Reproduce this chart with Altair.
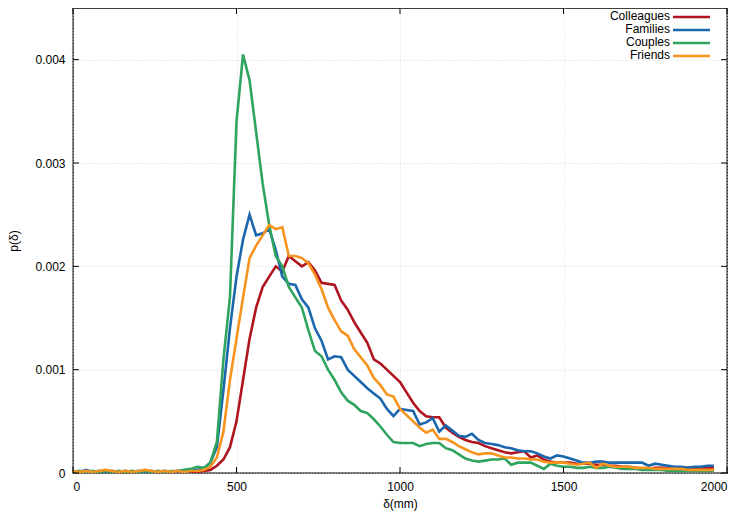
import altair as alt
import pandas as pd

# ---- data ----
names = ["Colleagues", "Families", "Couples", "Friends"]
colors = ["#b0141f", "#1a67ad", "#2fa45e", "#f7941e"]
x_mm = list(range(0, 1980, 20))  # bin positions (mm)

colleagues = [
    0.00001, 0.00001, 0.00001, 0.00001, 0.00001, 0.00001, 0.00001, 0.00001, 0.00001, 0.00001,
    0.00001, 0.00001, 0.00001, 0.00001, 0.00001, 0.00001, 0.00001, 0.00001, 0.00001, 0.00001,
    0.00002, 0.00003, 0.00007, 0.00013, 0.00025, 0.0005, 0.0009, 0.0013, 0.0016, 0.0018,
    0.0019, 0.0020, 0.00195, 0.0021, 0.00205, 0.0020, 0.00204, 0.00196, 0.00184, 0.00183,
    0.00182, 0.00167, 0.00158, 0.00146, 0.00136, 0.00126, 0.0011, 0.00106, 0.0010, 0.00094,
    0.00088, 0.00078, 0.00068, 0.0006, 0.00055, 0.00054, 0.00054, 0.00044, 0.00039, 0.00035,
    0.00032, 0.0003, 0.00029, 0.00026, 0.00024, 0.00022, 0.0002, 0.00019, 0.0002, 0.00021,
    0.00015, 0.00017, 0.00013, 0.00011, 0.0001, 0.0001, 0.0001, 0.00009, 0.00009, 0.00009,
    0.00008, 0.00008, 0.00007, 0.00007, 0.00006, 0.00006, 0.00005, 0.00004, 0.00004, 0.00005,
    0.00005, 0.00005, 0.00005, 0.00005, 0.00005, 0.00005, 0.00005, 0.00005, 0.00005,
]
families = [
    0.00002, 0.00001, 0.00003, 0.00001, 0.00002, 0.00001, 0.00002, 0.00001, 0.00002, 0.00001,
    0.00002, 0.00001, 0.00002, 0.00001, 0.00002, 0.00001, 0.00002, 0.00001, 0.00002, 0.00003,
    0.00004, 0.0001, 0.00025, 0.0008, 0.0014, 0.0019, 0.00226, 0.0025, 0.0023, 0.00232,
    0.00236, 0.00216, 0.0019, 0.00183, 0.00182, 0.00168, 0.0016, 0.0014, 0.00128, 0.0011,
    0.00113, 0.00112, 0.0010, 0.00094, 0.00088, 0.00082, 0.00077, 0.00072, 0.00062, 0.00055,
    0.00062, 0.00061, 0.0006, 0.00047, 0.00049, 0.00053, 0.0004, 0.00046, 0.00041, 0.00036,
    0.00035, 0.00038, 0.00032, 0.00029, 0.00028, 0.00027, 0.00025, 0.00024, 0.00022, 0.00021,
    0.00021, 0.00019, 0.00016, 0.00014, 0.00017, 0.00016, 0.00014, 0.00012, 0.0001, 0.0001,
    0.00011, 0.00011, 0.0001, 0.0001, 0.0001, 0.0001, 0.0001, 0.0001, 0.00007, 0.00009,
    0.00008, 0.00007, 0.00006, 0.00006, 0.00005, 0.00006, 0.00006, 0.00007, 0.00007,
]
couples = [
    0.00001, 0.00002, 0.00001, 0.00002, 0.00001, 0.00002, 0.00001, 0.00002, 0.00001, 0.00002,
    0.00001, 0.00002, 0.00001, 0.00002, 0.00001, 0.00002, 0.00002, 0.00003, 0.00004, 0.00006,
    0.00005, 0.0001, 0.0003, 0.0011, 0.0017, 0.0034, 0.00405, 0.0038, 0.0033, 0.0028,
    0.0024, 0.0021, 0.0020, 0.0018, 0.0017, 0.0016, 0.00138, 0.00118, 0.00113, 0.0010,
    0.0009, 0.00078, 0.0007, 0.00066, 0.0006, 0.00058, 0.00052, 0.00045, 0.00037, 0.0003,
    0.00029, 0.00029, 0.00029, 0.00026, 0.00028, 0.00029, 0.00029, 0.00024, 0.00022, 0.00018,
    0.00014, 0.00012, 0.00011, 0.00012, 0.00013, 0.00013, 0.00014, 0.00008, 0.0001, 0.0001,
    0.0001, 0.00007, 0.00004, 0.00009, 0.00007, 0.00006, 0.00006, 0.00005, 0.00005, 0.00006,
    0.00005, 0.00005, 0.00006, 0.00005, 0.00004, 0.00004, 0.00004, 0.00003, 0.00003, 0.00003,
    0.00003, 0.00002, 0.00002, 0.00002, 0.00002, 0.00002, 0.00002, 0.00002, 0.00002,
]
friends = [
    0.00002, 0.00001, 0.00002, 0.00001, 0.00002, 0.00003, 0.00002, 0.00001, 0.00002, 0.00001,
    0.00002, 0.00003, 0.00002, 0.00001, 0.00002, 0.00001, 0.00002, 0.00001, 0.00002, 0.00002,
    0.00003, 0.00006, 0.00015, 0.0004, 0.0009, 0.0013, 0.0017, 0.00208, 0.0022, 0.0023,
    0.0024, 0.00236, 0.00238, 0.0021, 0.0021, 0.00208, 0.00203, 0.00192, 0.00178, 0.0016,
    0.00148, 0.00137, 0.00133, 0.0012, 0.00112, 0.00104, 0.00092, 0.00085, 0.00076, 0.00074,
    0.00062, 0.00056, 0.0005, 0.00044, 0.00039, 0.00042, 0.00033, 0.00033, 0.0003, 0.00026,
    0.00023, 0.0002, 0.00018, 0.00019, 0.00019, 0.00017, 0.00015, 0.00015, 0.00014, 0.00014,
    0.00013, 0.00013, 0.00011, 0.0001, 0.0001, 0.0001, 0.00009, 0.00008, 0.00009, 0.0001,
    0.00005, 0.00009, 0.00007, 0.00006, 0.00006, 0.00006, 0.00005, 0.00005, 0.00005, 0.00004,
    0.00004, 0.00004, 0.00004, 0.00004, 0.00003, 0.00003, 0.00003, 0.00003, 0.00003,
]
series_values = [colleagues, families, couples, friends]

x_ticks = [0, 500, 1000, 1500, 2000]
y_ticks = [0, 0.001, 0.002, 0.003, 0.004]

# ---- chart ----
W, H = 654, 465
FONT = "Liberation Sans"

xscale = alt.Scale(domain=[0, 2000], nice=False)
yscale = alt.Scale(domain=[0, 0.0045], nice=False)

xaxis = alt.Axis(values=x_ticks, title="δ(mm)", grid=True, gridDash=[1, 2],
                 gridColor="#dddddd", ticks=False, domain=False, labelPadding=8,
                 format="d",
                 labelFontSize=12, titleFontSize=12, titleFontWeight="normal",
                 labelFont=FONT, titleFont=FONT, labelColor="#000", titleColor="#000",
                 titlePadding=6)
yaxis = alt.Axis(values=y_ticks, title="p(δ)", grid=True, gridDash=[1, 2],
                 gridColor="#dddddd", ticks=False, domain=False, labelPadding=8,
                 labelExpr="datum.value == 0 ? '0' : format(datum.value, '.3f')",
                 labelFontSize=12, titleFontSize=12, titleFontWeight="normal",
                 labelFont=FONT, titleFont=FONT, labelColor="#000", titleColor="#000",
                 titlePadding=14)

X = lambda: alt.X("x:Q", scale=xscale, axis=xaxis)
Y = lambda: alt.Y("p:Q", scale=yscale, axis=yaxis)

layers = []
for i, (name, vals) in enumerate(zip(names, series_values)):
    df = pd.DataFrame({"x": x_mm, "p": vals, "series": name})
    layers.append(
        alt.Chart(df).mark_line(color=colors[i], strokeWidth=2.6, clip=True)
        .encode(x=X(), y=Y())
    )

# inward ticks (gnuplot style) on all four sides
xt = pd.DataFrame({"x": x_ticks})
yt = pd.DataFrame({"p": y_ticks})
tick_layers = [
    alt.Chart(xt).mark_rule(color="black", strokeWidth=1).encode(
        x=X(), y=alt.value(H), y2=alt.value(H - 6)),
    alt.Chart(xt).mark_rule(color="black", strokeWidth=1).encode(
        x=X(), y=alt.value(0), y2=alt.value(6)),
    alt.Chart(yt).mark_rule(color="black", strokeWidth=1).encode(
        y=Y(), x=alt.value(0), x2=alt.value(6)),
    alt.Chart(yt).mark_rule(color="black", strokeWidth=1).encode(
        y=Y(), x=alt.value(W), x2=alt.value(W - 6)),
]

# legend (gnuplot style: label then line sample)
legend_layers = []
for i, name in enumerate(names):
    ly = 8 + 13 * i
    ldf = pd.DataFrame({"label": [name]})
    legend_layers.append(
        alt.Chart(ldf).mark_text(align="right", baseline="middle", font=FONT,
                                 fontSize=12, color="black")
        .encode(text="label:N", x=alt.value(597), y=alt.value(ly))
    )
    legend_layers.append(
        alt.Chart(ldf).mark_rule(color=colors[i], strokeWidth=2.6)
        .encode(x=alt.value(600), x2=alt.value(637), y=alt.value(ly + 1))
    )

chart = alt.layer(*layers, *tick_layers, *legend_layers).properties(
    width=W, height=H,
    autosize=alt.AutoSizeParams(type="none"),
    padding={"left": 65, "top": 0, "right": 9, "bottom": 41},
    background="white",
).configure_view(stroke="black", strokeWidth=1.3)

chart.save("out.html", embed_options={"renderer": "svg", "actions": False})
